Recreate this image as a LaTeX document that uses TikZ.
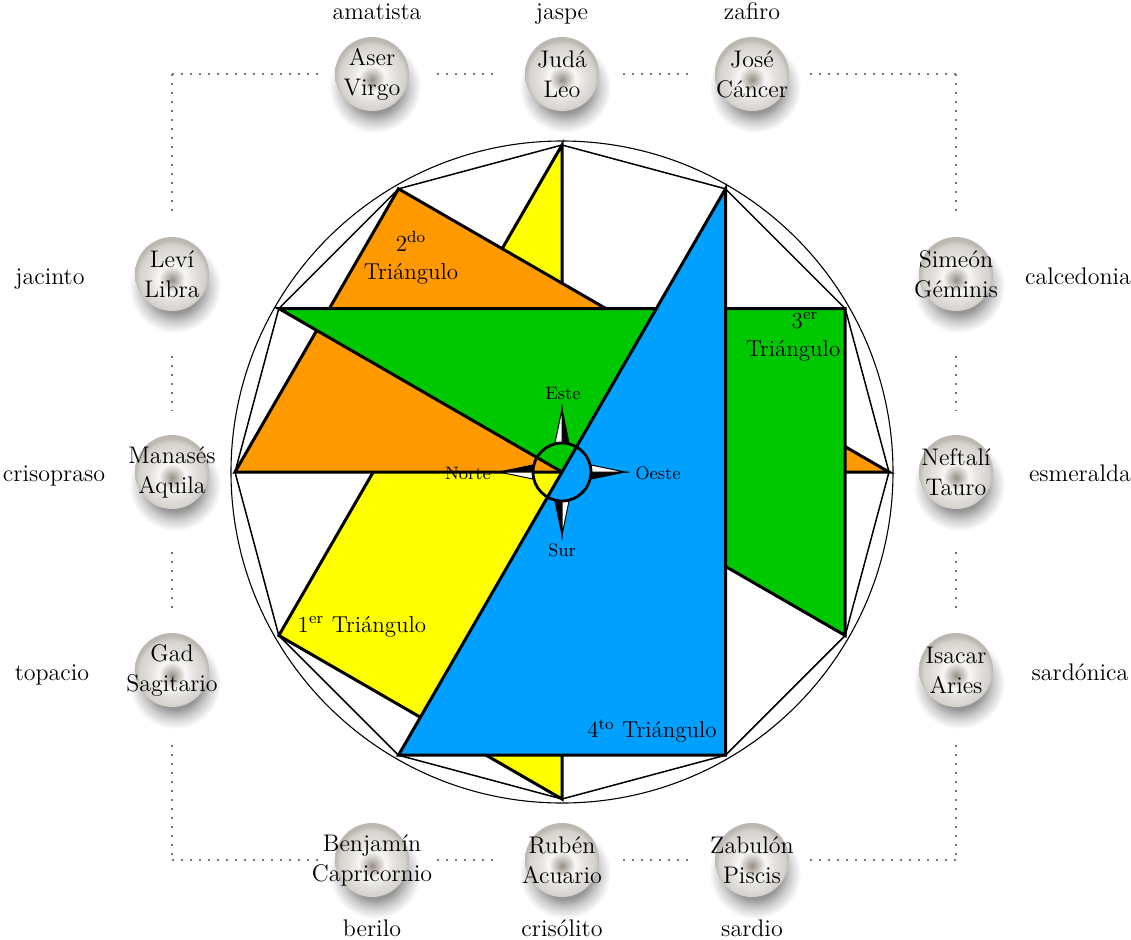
\documentclass[tikz,border=0pt]{standalone}
\usetikzlibrary{calc,backgrounds}
\definecolor{triyellow}{RGB}{255,255,0}
\definecolor{triorange}{RGB}{255,153,0}
\definecolor{trigreen}{RGB}{0,200,0}
\definecolor{triblue}{RGB}{0,160,255}
\definecolor{pdark}{RGB}{150,142,133}
\definecolor{pmid}{RGB}{200,195,189}
\definecolor{phigh}{RGB}{248,247,245}
\definecolor{pbody}{RGB}{228,226,222}
\definecolor{pedgea}{RGB}{214,211,206}
\definecolor{pedgeb}{RGB}{188,184,177}
\definecolor{dotgray}{RGB}{120,120,120}
\definecolor{shda}{RGB}{150,150,150}
\definecolor{shdb}{RGB}{205,205,205}
\pgfdeclareradialshading{pearlshade}{\pgfpoint{0bp}{-4bp}}{%
  color(0bp)=(pdark); color(4.5bp)=(pmid); color(9bp)=(phigh);
  color(15bp)=(pbody); color(22bp)=(pedgea); color(25bp)=(pedgeb);
  color(50bp)=(pedgeb)}
\pgfdeclareradialshading{pshadow}{\pgfpoint{0bp}{0bp}}{%
  color(0bp)=(shda); color(14bp)=(shda); color(19bp)=(shdb);
  color(25bp)=(white); color(50bp)=(white)}
\begin{document}
\begin{tikzpicture}[x=0.5pt,y=-0.5pt,
  tri/.style={line width=1.5pt,draw=black,line join=miter},
  poly/.style={line width=0.75pt,draw=black},
  ring/.style={line width=0.55pt,draw=black},
  pearl/.style={circle,minimum size=37pt,inner sep=0pt,shade,shading=pearlshade},
  pearlshadow/.style={shade,shading=pshadow},
  ptext/.style={align=center,inner sep=0pt,font=\fontsize{12}{15}\selectfont},
  gem/.style={anchor=base,inner sep=0pt,font=\fontsize{12}{14}\selectfont},
  trilabel/.style={inner sep=0pt,font=\fontsize{11.5}{10}\selectfont},
  compasslabel/.style={inner sep=0pt,font=\fontsize{9}{11}\selectfont},
  dotline/.style={draw=dotgray,line width=1pt,dash pattern=on 1pt off 3.5pt},
  blackhalf/.style={fill=black,draw=black,line width=0.5pt,line join=miter},
  whitehalf/.style={fill=white,draw=black,line width=0.5pt,line join=miter}]
\useasboundingbox (0,0) rectangle (1131,939);
\coordinate (C) at (562,472);
\foreach \a in {0,30,...,330}
  \coordinate (p\a) at ({562+327*cos(\a)},{472-327*sin(\a)});
% triangles
\filldraw[tri,fill=triyellow] (p90) -- (p210) -- (p270) -- cycle;
\filldraw[tri,fill=triorange] (p120) -- (p180) -- (p0) -- cycle;
\filldraw[tri,fill=trigreen] (p150) -- (p30) -- (p330) -- cycle;
\filldraw[tri,fill=triblue] (p60) -- (p240) -- (p300) -- cycle;
% dodecagon and circle
\draw[poly] (p0) -- (p30) -- (p60) -- (p90) -- (p120) -- (p150) -- (p180)
  -- (p210) -- (p240) -- (p270) -- (p300) -- (p330) -- cycle;
\draw[ring] (C) circle[radius=331];
% compass needles
\filldraw[blackhalf] (562,409) -- (569,443) -- (562,443) -- cycle;
\filldraw[whitehalf] (562,409) -- (555,443) -- (562,443) -- cycle;
\filldraw[blackhalf] (562,535) -- (555,501) -- (562,501) -- cycle;
\filldraw[whitehalf] (562,535) -- (569,501) -- (562,501) -- cycle;
\filldraw[blackhalf] (625,472) -- (591,479) -- (591,472) -- cycle;
\filldraw[whitehalf] (625,472) -- (591,465) -- (591,472) -- cycle;
\filldraw[blackhalf] (499,472) -- (533,465) -- (533,472) -- cycle;
\filldraw[whitehalf] (499,472) -- (533,479) -- (533,472) -- cycle;
\draw[line width=1.4pt] (C) circle[radius=29];
\node[compasslabel] (este) at (563,393) {Este};
\node[compasslabel] (sur) at (562,550) {Sur};
\node[compasslabel] (oeste) at (658,473) {Oeste};
\node[compasslabel] (norte) at (468,473) {Norte};
% triangle labels
\node[trilabel] (t1) at (362,627) {1\textsuperscript{er} Triángulo};
\node[trilabel,align=center] (t2) at (411,258) {2\textsuperscript{do}\\[4pt]Triángulo};
\node[trilabel,align=center] (t3) at (793,337) {\hspace*{12pt}3\textsuperscript{er}\\[4pt]Triángulo};
\node[trilabel] (t4) at (652,731) {4\textsuperscript{to} Triángulo};
% corners
\coordinate (tl) at (172,74);
\coordinate (tr) at (956,74);
\coordinate (bl) at (172,860);
\coordinate (br) at (956,860);
% pearls
\node[pearl] (aser) at (372,74) {};
\node[pearl] (juda) at (562,74) {};
\node[pearl] (jose) at (752,74) {};
\node[pearl] (levi) at (172,274) {};
\node[pearl] (manases) at (172,472) {};
\node[pearl] (gad) at (172,670) {};
\node[pearl] (simeon) at (956,274) {};
\node[pearl] (neftali) at (956,472) {};
\node[pearl] (isacar) at (956,670) {};
\node[pearl] (benjamin) at (372,860) {};
\node[pearl] (ruben) at (562,860) {};
\node[pearl] (zabulon) at (752,860) {};
% soft shadows beneath the pearls
\begin{scope}[on background layer]
\foreach \n in {aser,juda,jose,levi,manases,gad,simeon,neftali,isacar,benjamin,ruben,zabulon}
  \shade[pearlshadow] ($(\n)+(3,13)$) circle[radius=46];
\end{scope}
% dotted frame
\draw[dotline,shorten >=8.5pt] (tl) -- (aser);
\draw[dotline,shorten <=14pt,shorten >=12.5pt] (aser) -- (juda);
\draw[dotline,shorten <=12pt,shorten >=12.5pt] (juda) -- (jose);
\draw[dotline,shorten <=10.5pt] (jose) -- (tr);
\draw[dotline,shorten >=10.5pt] (tl) -- (levi);
\draw[dotline,shorten <=22.5pt,shorten >=12pt] (levi) -- (manases);
\draw[dotline,shorten <=21.5pt,shorten >=12.5pt] (manases) -- (gad);
\draw[dotline,shorten <=19pt] (gad) -- (bl);
\draw[dotline,shorten >=8.5pt] (bl) -- (benjamin);
\draw[dotline,shorten <=14pt,shorten >=12.5pt] (benjamin) -- (ruben);
\draw[dotline,shorten <=12pt,shorten >=12.5pt] (ruben) -- (zabulon);
\draw[dotline,shorten <=10.5pt] (zabulon) -- (br);
\draw[dotline,shorten >=10.5pt] (tr) -- (simeon);
\draw[dotline,shorten <=22.5pt,shorten >=12pt] (simeon) -- (neftali);
\draw[dotline,shorten <=21.5pt,shorten >=12.5pt] (neftali) -- (isacar);
\draw[dotline,shorten <=19pt] (isacar) -- (br);
% pearl texts
\node[ptext] (aser-t) at (aser) {Aser\\Virgo};
\node[ptext] (juda-t) at (juda) {Judá\\Leo};
\node[ptext] (jose-t) at (jose) {José\\Cáncer};
\node[ptext] (levi-t) at (levi) {Leví\\Libra};
\node[ptext] (manases-t) at (manases) {Manasés\\Aquila};
\node[ptext] (gad-t) at (gad) {Gad\\Sagitario};
\node[ptext] (simeon-t) at (simeon) {Simeón\\Géminis};
\node[ptext] (neftali-t) at (neftali) {Neftalí\\Tauro};
\node[ptext] (isacar-t) at (isacar) {Isacar\\Aries};
\node[ptext] (benjamin-t) at (benjamin) {Benjamín\\Capricornio};
\node[ptext] (ruben-t) at (ruben) {Rubén\\Acuario};
\node[ptext] (zabulon-t) at (zabulon) {Zabulón\\Piscis};
% gem labels
\node[gem] (g-aser) at (377,19) {amatista};
\node[gem] (g-juda) at (562,19) {jaspe};
\node[gem] (g-jose) at (752,19) {zafiro};
\node[gem] (g-levi) at (50,284) {jacinto};
\node[gem] (g-simeon) at (1078,284) {calcedonia};
\node[gem] (g-manases) at (54,481) {crisopraso};
\node[gem] (g-neftali) at (1080,481) {esmeralda};
\node[gem] (g-gad) at (52,680) {topacio};
\node[gem] (g-isacar) at (1080,680) {sardónica};
\node[gem] (g-benjamin) at (372,936) {berilo};
\node[gem] (g-ruben) at (562,936) {crisólito};
\node[gem] (g-zabulon) at (752,936) {sardio};
\end{tikzpicture}
\end{document}
